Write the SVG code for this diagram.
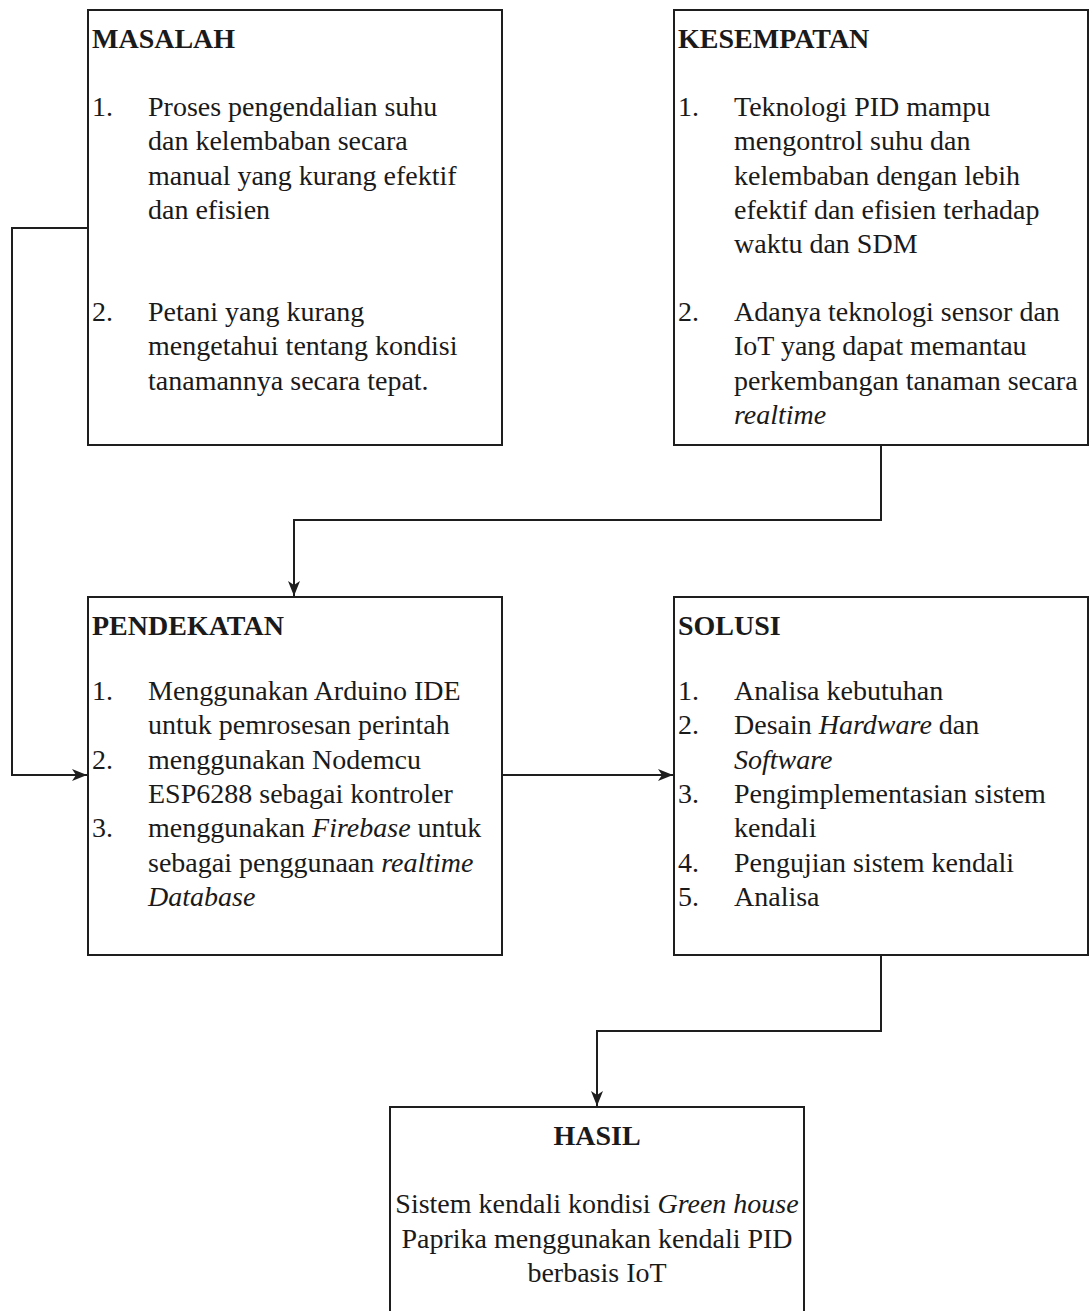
<svg xmlns="http://www.w3.org/2000/svg" width="1091" height="1311" viewBox="0 0 1091 1311">
  <style>
    .box { fill: #ffffff; stroke: #1e1e1e; stroke-width: 2; }
    .conn { fill: none; stroke: #1e1e1e; stroke-width: 2; }
    text { font-family: "Liberation Serif", "Times New Roman", serif; font-size: 28px; fill: #1a1a1a; }
    .title { font-weight: bold; }
    .it { font-style: italic; }
    .mid { text-anchor: middle; }
  </style>
  <defs>
    <marker id="arrow" markerUnits="userSpaceOnUse" markerWidth="16" markerHeight="14" refX="15" refY="7" orient="auto">
      <path d="M0,1 L15,7 L0,13 L4,7 Z" fill="#1e1e1e"/>
    </marker>
  </defs>
  <rect width="1091" height="1311" fill="#ffffff"/>

  <g id="connectors">
    <path class="conn" d="M88,228 H12 V775 H87" marker-end="url(#arrow)"/>
    <path class="conn" d="M881,445 V520 H294 V596" marker-end="url(#arrow)"/>
    <path class="conn" d="M502,775 H673" marker-end="url(#arrow)"/>
    <path class="conn" d="M881,955 V1031 H597 V1106" marker-end="url(#arrow)"/>
  </g>

  <g id="masalah">
    <rect class="box" x="88" y="10" width="414" height="435"/>
    <text class="title" x="92" y="48">MASALAH</text>
    <text x="92" y="116">1.</text>
    <text x="148" y="116">Proses pengendalian suhu</text>
    <text x="148" y="150.3">dan kelembaban secara</text>
    <text x="148" y="184.6">manual yang kurang efektif</text>
    <text x="148" y="218.9">dan efisien</text>
    <text x="92" y="321">2.</text>
    <text x="148" y="321">Petani yang kurang</text>
    <text x="148" y="355.3">mengetahui tentang kondisi</text>
    <text x="148" y="389.6">tanamannya secara tepat.</text>
  </g>

  <g id="kesempatan">
    <rect class="box" x="674" y="10" width="414" height="435"/>
    <text class="title" x="678" y="48">KESEMPATAN</text>
    <text x="678" y="116">1.</text>
    <text x="734" y="116">Teknologi PID mampu</text>
    <text x="734" y="150.3">mengontrol suhu dan</text>
    <text x="734" y="184.6">kelembaban dengan lebih</text>
    <text x="734" y="218.9">efektif dan efisien terhadap</text>
    <text x="734" y="253.2">waktu dan SDM</text>
    <text x="678" y="321">2.</text>
    <text x="734" y="321">Adanya teknologi sensor dan</text>
    <text x="734" y="355.3">IoT yang dapat memantau</text>
    <text x="734" y="389.6">perkembangan tanaman secara</text>
    <text x="734" y="423.9" class="it">realtime</text>
  </g>

  <g id="pendekatan">
    <rect class="box" x="88" y="597" width="414" height="358"/>
    <text class="title" x="92" y="635">PENDEKATAN</text>
    <text x="92" y="700">1.</text>
    <text x="148" y="700">Menggunakan Arduino IDE</text>
    <text x="148" y="734.3">untuk pemrosesan perintah</text>
    <text x="92" y="768.6">2.</text>
    <text x="148" y="768.6">menggunakan Nodemcu</text>
    <text x="148" y="802.9">ESP6288 sebagai kontroler</text>
    <text x="92" y="837.2">3.</text>
    <text x="148" y="837.2">menggunakan <tspan class="it">Firebase</tspan> untuk</text>
    <text x="148" y="871.5">sebagai penggunaan <tspan class="it">realtime</tspan></text>
    <text x="148" y="905.8" class="it">Database</text>
  </g>

  <g id="solusi">
    <rect class="box" x="674" y="597" width="414" height="358"/>
    <text class="title" x="678" y="635">SOLUSI</text>
    <text x="678" y="700">1.</text>
    <text x="734" y="700">Analisa kebutuhan</text>
    <text x="678" y="734.3">2.</text>
    <text x="734" y="734.3">Desain <tspan class="it">Hardware</tspan> dan</text>
    <text x="734" y="768.6" class="it">Software</text>
    <text x="678" y="802.9">3.</text>
    <text x="734" y="802.9">Pengimplementasian sistem</text>
    <text x="734" y="837.2">kendali</text>
    <text x="678" y="871.5">4.</text>
    <text x="734" y="871.5">Pengujian sistem kendali</text>
    <text x="678" y="905.8">5.</text>
    <text x="734" y="905.8">Analisa</text>
  </g>

  <g id="hasil">
    <rect class="box" x="390" y="1107" width="414" height="220"/>
    <text class="title mid" x="597" y="1145">HASIL</text>
    <text class="mid" x="597" y="1213">Sistem kendali kondisi <tspan class="it">Green house</tspan></text>
    <text class="mid" x="597" y="1247.5">Paprika menggunakan kendali PID</text>
    <text class="mid" x="597" y="1282">berbasis IoT</text>
  </g>
</svg>
